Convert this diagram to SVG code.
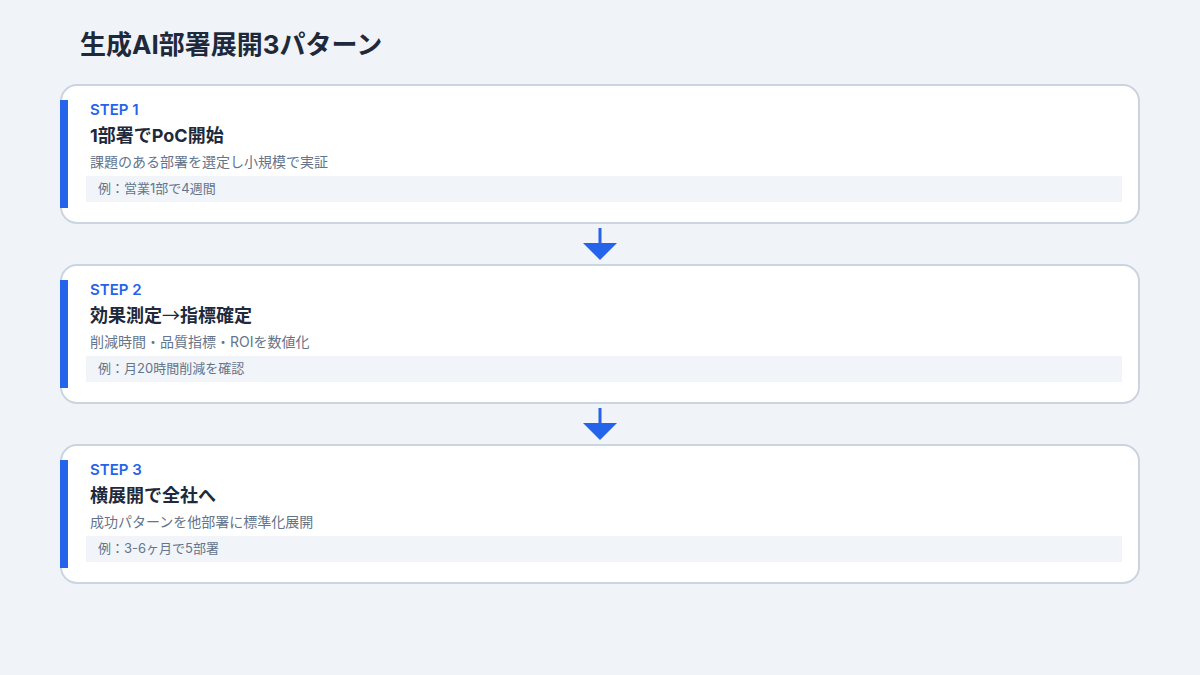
<svg xmlns="http://www.w3.org/2000/svg" width="1200" height="675" viewBox="0 0 1200 675">
<style>
.ttl{font-family:Inter,"Noto Sans CJK JP",sans-serif;font-weight:700;font-size:26px;fill:#1e293b}
.card{fill:#ffffff;stroke:#cbd5e1;stroke-width:2}
.bar{fill:#2563eb}
.step{font-family:Inter,"Noto Sans CJK JP",sans-serif;font-weight:600;font-size:15px;fill:#2563eb}
.head{font-family:Inter,"Noto Sans CJK JP",sans-serif;font-weight:700;font-size:18px;fill:#1e293b}
.arr{font-family:"Noto Sans CJK JP",sans-serif;font-weight:400}
.desc{font-family:Inter,"Noto Sans CJK JP",sans-serif;font-size:14px;fill:#64748b}
.exbox{fill:#f1f5f9}
.ex{font-family:Inter,"Noto Sans CJK JP",sans-serif;font-size:13px;fill:#64748b}
.conn{stroke:#2563eb;stroke-width:3}
.ah{fill:#2563eb}
</style>
<rect width="1200" height="675" fill="#f0f4f9"/>
<text class="ttl" x="80" y="54">生成AI部署展開3パターン</text>

<g id="step1">
<rect class="card" x="61" y="85" width="1078" height="138" rx="16"/>
<rect class="bar" x="60" y="100" width="8" height="108"/>
<text class="step" x="90" y="115">STEP 1</text>
<text class="head" x="90" y="142">1部署でPoC開始</text>
<text class="desc" x="90" y="167">課題のある部署を選定し小規模で実証</text>
<rect class="exbox" x="86" y="176" width="1036" height="26"/>
<text class="ex" x="98" y="193">例：営業1部で4週間</text>
</g>

<g id="step2">
<rect class="card" x="61" y="265" width="1078" height="138" rx="16"/>
<rect class="bar" x="60" y="280" width="8" height="108"/>
<text class="step" x="90" y="295">STEP 2</text>
<text class="head" x="90" y="322">効果測定<tspan class="arr">→</tspan>指標確定</text>
<text class="desc" x="90" y="347">削減時間・品質指標・ROIを数値化</text>
<rect class="exbox" x="86" y="356" width="1036" height="26"/>
<text class="ex" x="98" y="373">例：月20時間削減を確認</text>
</g>

<g id="step3">
<rect class="card" x="61" y="445" width="1078" height="138" rx="16"/>
<rect class="bar" x="60" y="460" width="8" height="108"/>
<text class="step" x="90" y="475">STEP 3</text>
<text class="head" x="90" y="502">横展開で全社へ</text>
<text class="desc" x="90" y="527">成功パターンを他部署に標準化展開</text>
<rect class="exbox" x="86" y="536" width="1036" height="26"/>
<text class="ex" x="98" y="553">例：3-6ヶ月で5部署</text>
</g>

<g id="connectors">
<line class="conn" x1="600" y1="228" x2="600" y2="245"/>
<polygon class="ah" points="583,243 617,243 600,260"/>
<line class="conn" x1="600" y1="408" x2="600" y2="425"/>
<polygon class="ah" points="583,423 617,423 600,440"/>
</g>
</svg>
